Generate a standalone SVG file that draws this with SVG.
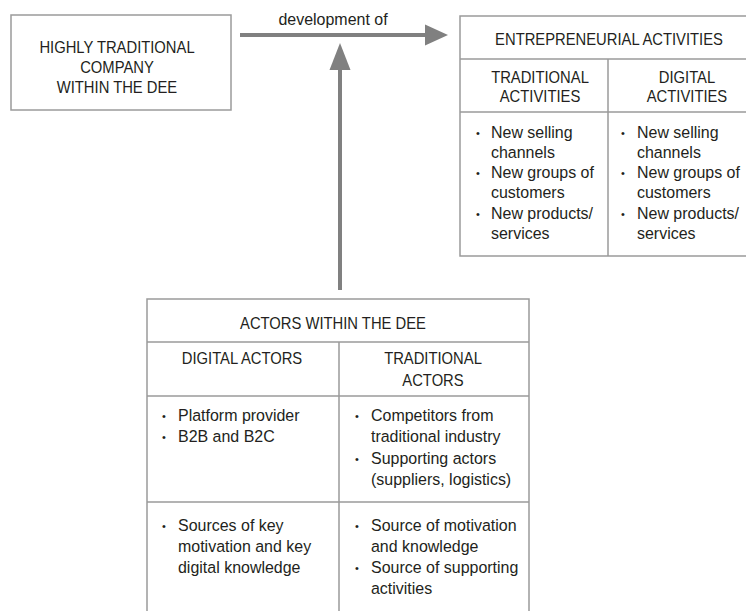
<svg xmlns="http://www.w3.org/2000/svg" width="746" height="611" viewBox="0 0 746 611">
  <style>
    .t { font-family: "Liberation Sans", Arial, sans-serif; font-size: 17px; fill: #231f20; transform-box: fill-box; }
    .c { text-anchor: middle; transform-origin: center; }
    .l { transform-origin: left center; }
    .up { transform: scaleX(0.87); }
    .lo { transform: scaleX(0.94); }
    .b { font-family: "Liberation Sans", Arial, sans-serif; font-size: 11px; fill: #231f20; }
    .box { fill: #ffffff; stroke: #9b9b9b; stroke-width: 1.5; }
    .rule { stroke: #9b9b9b; stroke-width: 1.5; fill: none; }
    .conn { stroke: #808080; stroke-width: 4; fill: none; }
    .head { fill: #808080; }
  </style>

  <rect width="746" height="611" fill="#ffffff"/>

  <!-- connectors -->
  <g id="connectors">
    <line class="conn" x1="240" y1="35" x2="428" y2="35"/>
    <polygon class="head" points="448,35 425,24.5 425,45.5"/>
    <text class="t c lo" x="333" y="25">development of</text>
    <line class="conn" x1="340" y1="290" x2="340" y2="66"/>
    <polygon class="head" points="340,43 329.5,70 350.5,70"/>
  </g>

  <!-- company box -->
  <g id="company">
    <rect class="box" x="11" y="15" width="220" height="95"/>
    <text class="t c up" x="117" y="53">HIGHLY TRADITIONAL</text>
    <text class="t c up" x="117" y="73">COMPANY</text>
    <text class="t c up" x="117" y="93">WITHIN THE DEE</text>
  </g>

  <!-- entrepreneurial activities table -->
  <g id="activities">
    <path class="rule" d="M747,16 H460 V256 H747 M460,59 H747 M460,112 H747 M608,59 V256"/>
    <text class="t c up" x="609" y="45">ENTREPRENEURIAL ACTIVITIES</text>
    <text class="t c up" x="540" y="83">TRADITIONAL</text>
    <text class="t c up" x="540" y="102">ACTIVITIES</text>
    <text class="t c up" x="687" y="83">DIGITAL</text>
    <text class="t c up" x="687" y="102">ACTIVITIES</text>

    <text class="b" x="476" y="136.5">•</text>
    <text class="t l lo" x="491" y="138">New selling</text>
    <text class="t l lo" x="491" y="158">channels</text>
    <text class="b" x="476" y="176.5">•</text>
    <text class="t l lo" x="491" y="178">New groups of</text>
    <text class="t l lo" x="491" y="198">customers</text>
    <text class="b" x="476" y="217.5">•</text>
    <text class="t l lo" x="491" y="219">New products/</text>
    <text class="t l lo" x="491" y="239">services</text>

    <text class="b" x="621" y="136.5">•</text>
    <text class="t l lo" x="637" y="138">New selling</text>
    <text class="t l lo" x="637" y="158">channels</text>
    <text class="b" x="621" y="176.5">•</text>
    <text class="t l lo" x="637" y="178">New groups of</text>
    <text class="t l lo" x="637" y="198">customers</text>
    <text class="b" x="621" y="217.5">•</text>
    <text class="t l lo" x="637" y="219">New products/</text>
    <text class="t l lo" x="637" y="239">services</text>
  </g>

  <!-- actors table -->
  <g id="actors">
    <path class="rule" d="M147,612 V299 H529 V612 M147,342 H529 M147,396 H529 M147,502 H529 M339,342 V612"/>
    <text class="t c up" x="333" y="329">ACTORS WITHIN THE DEE</text>
    <text class="t c up" x="242" y="364">DIGITAL ACTORS</text>
    <text class="t c up" x="433" y="364">TRADITIONAL</text>
    <text class="t c up" x="433" y="386">ACTORS</text>

    <text class="b" x="162" y="419.5">•</text>
    <text class="t l lo" x="178" y="421">Platform provider</text>
    <text class="b" x="162" y="440.5">•</text>
    <text class="t l lo" x="178" y="442">B2B and B2C</text>

    <text class="b" x="355" y="419.5">•</text>
    <text class="t l lo" x="371" y="421">Competitors from</text>
    <text class="t l lo" x="371" y="442">traditional industry</text>
    <text class="b" x="355" y="462.5">•</text>
    <text class="t l lo" x="371" y="464">Supporting actors</text>
    <text class="t l lo" x="371" y="485">(suppliers, logistics)</text>

    <text class="b" x="162" y="529.5">•</text>
    <text class="t l lo" x="178" y="531">Sources of key</text>
    <text class="t l lo" x="178" y="552">motivation and key</text>
    <text class="t l lo" x="178" y="573">digital knowledge</text>

    <text class="b" x="355" y="529.5">•</text>
    <text class="t l lo" x="371" y="531">Source of motivation</text>
    <text class="t l lo" x="371" y="552">and knowledge</text>
    <text class="b" x="355" y="571.5">•</text>
    <text class="t l lo" x="371" y="573">Source of supporting</text>
    <text class="t l lo" x="371" y="594">activities</text>
  </g>
</svg>
